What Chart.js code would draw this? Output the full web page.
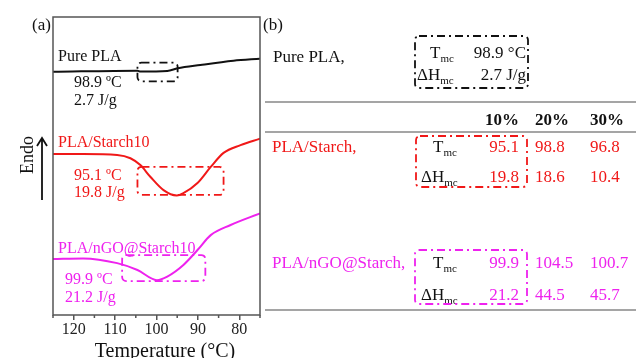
<!DOCTYPE html>
<html lang="en">
<head>
<meta charset="UTF-8">
<title>DSC cooling curves</title>
<script src="https://cdn.jsdelivr.net/npm/chart.js@4.4.4/dist/chart.umd.js"></script>
<style>
  body { margin: 0; background: #fff; }
</style>
</head>
<body>
<canvas id="dsc" width="636" height="358"></canvas>
<script>
// heat flow (arbitrary units, curves shifted vertically)
const tempPure = [125, 104.6, 103.9, 97.4, 94.9, 89.4, 81.4, 75];
const flowPure = [81.6, 82.0, 81.7, 81.9, 82.8, 83.9, 85.3, 86.0];

const tempStarch = [125, 117.7, 109.5, 106.3, 103.9, 101.5, 98.3, 95.1, 93.5, 90.1, 86.9, 83.8, 79.7, 75];
const flowStarch = [54.0, 54.0, 53.7, 52.6, 50.3, 46.4, 41.9, 40.1, 40.9, 44.3, 49.7, 54.4, 57.0, 59.2];

const tempNgo = [125, 117.7, 109.5, 104.6, 99.9, 97.4, 93.5, 90.1, 86.9, 82.1, 75];
const flowNgo = [18.8, 19.0, 17.4, 15.1, 11.7, 12.9, 16.8, 21.8, 26.8, 30.2, 34.1];

const tickTemps = [80, 90, 100, 110, 120];

// table (b)
const fillers = ['10%', '20%', '30%'];
const pureTmc = 98.9, pureDH = 2.7;
const starchTmc = [95.1, 98.8, 96.8];
const starchDH = [19.8, 18.6, 10.4];
const ngoTmc = [99.9, 104.5, 100.7];
const ngoDH = [21.2, 44.5, 45.7];

const BLACK = '#111';
const RED = '#f01818';
const MAG = '#ee22ee';
const SERIF = "'Liberation Serif', 'Times New Roman', serif";

function pts(xs, ys) { return xs.map((x, i) => ({ x: x, y: ys[i] })); }

// dash-dot boxes around the crystallisation peaks: [T1, T2, y1, y2]
const boxes = [
  { c: BLACK, r: [104.6, 94.9, 84.7, 78.4] },
  { c: RED, r: [104.6, 83.8, 49.7, 40.3] },
  { c: MAG, r: [108.3, 88.2, 20.1, 11.4] }
];

function sub(ctx, main, s, x, y, size) {
  ctx.font = size + 'px ' + SERIF;
  ctx.fillText(main, x, y);
  const w = ctx.measureText(main).width;
  ctx.font = Math.round(size * 0.65) + 'px ' + SERIF;
  ctx.fillText(s, x + w, y + 4);
}

function dashRect(ctx, x1, y1, x2, y2, color) {
  ctx.save();
  ctx.strokeStyle = color;
  ctx.lineWidth = 1.8;
  ctx.setLineDash([8, 4, 2, 4]);
  ctx.beginPath();
  ctx.roundRect(Math.min(x1, x2), Math.min(y1, y2), Math.abs(x2 - x1), Math.abs(y2 - y1), 4);
  ctx.stroke();
  ctx.restore();
}

const extras = {
  id: 'extras',
  afterDraw(chart) {
    const ctx = chart.ctx, xs = chart.scales.x, ys = chart.scales.y, a = chart.chartArea;
    ctx.save();
    // frame
    ctx.strokeStyle = '#555';
    ctx.lineWidth = 1.5;
    ctx.strokeRect(a.left, a.top, a.right - a.left, a.bottom - a.top);
    // minor ticks
    ctx.beginPath();
    for (let t = 75; t <= 125; t += 10) {
      const px = xs.getPixelForValue(t);
      ctx.moveTo(px, a.bottom); ctx.lineTo(px, a.bottom + 3);
    }
    ctx.stroke();

    boxes.forEach(b => dashRect(ctx, xs.getPixelForValue(b.r[0]), ys.getPixelForValue(b.r[2]),
      xs.getPixelForValue(b.r[1]), ys.getPixelForValue(b.r[3]), b.c));

    ctx.textBaseline = 'alphabetic';
    ctx.textAlign = 'left';
    ctx.font = '16px ' + SERIF;
    ctx.fillStyle = BLACK;
    ctx.fillText('Pure PLA', 58, 61);
    ctx.fillText('98.9 ºC', 74, 87);
    ctx.fillText('2.7 J/g', 74, 105);
    ctx.fillStyle = RED;
    ctx.fillText('PLA/Starch10', 58, 147);
    ctx.fillText('95.1 ºC', 74, 180);
    ctx.fillText('19.8 J/g', 74, 197);
    ctx.fillStyle = MAG;
    ctx.fillText('PLA/nGO@Starch10', 58, 253);
    ctx.fillText('99.9 ºC', 65, 284);
    ctx.fillText('21.2 J/g', 65, 302);

    // panel letters, axis title, Endo arrow
    ctx.fillStyle = BLACK;
    ctx.font = '17px ' + SERIF;
    ctx.fillText('(a)', 32, 30);
    ctx.fillText('(b)', 263, 30);
    ctx.font = '20px ' + SERIF;
    ctx.textAlign = 'center';
    ctx.fillText('Temperature (°C)', 165, 357);
    ctx.save();
    ctx.translate(33, 155);
    ctx.rotate(-Math.PI / 2);
    ctx.font = '18px ' + SERIF;
    ctx.fillText('Endo', 0, 0);
    ctx.restore();
    ctx.strokeStyle = BLACK;
    ctx.lineWidth = 1.8;
    ctx.beginPath();
    ctx.moveTo(42, 200); ctx.lineTo(42, 138);
    ctx.moveTo(37, 146); ctx.lineTo(42, 138); ctx.lineTo(47, 146);
    ctx.stroke();

    // table (b)
    ctx.strokeStyle = '#888';
    ctx.lineWidth = 1.5;
    ctx.beginPath();
    [102, 132, 310].forEach(y => { ctx.moveTo(265, y); ctx.lineTo(636, y); });
    ctx.stroke();

    ctx.textAlign = 'left';
    ctx.fillStyle = BLACK;
    ctx.font = '17px ' + SERIF;
    ctx.fillText('Pure PLA,', 273, 62);
    sub(ctx, 'T', 'mc', 430, 58, 17);
    sub(ctx, 'ΔH', 'mc', 417, 80, 17);
    ctx.textAlign = 'right';
    ctx.font = '17px ' + SERIF;
    ctx.fillText(pureTmc.toFixed(1) + ' °C', 526, 58);
    ctx.fillText(pureDH.toFixed(1) + ' J/g', 526, 80);
    dashRect(ctx, 415, 36, 528, 88, BLACK);

    ctx.font = 'bold 17px ' + SERIF;
    const colX = [519, 535, 590];
    fillers.forEach((f, i) => {
      ctx.textAlign = i === 0 ? 'right' : 'left';
      ctx.fillText(f, colX[i], 125);
    });

    const rows = [
      { name: 'PLA/Starch,', c: RED, tmc: starchTmc, dh: starchDH, y1: 152, y2: 182, box: [416, 136, 527, 187] },
      { name: 'PLA/nGO@Starch,', c: MAG, tmc: ngoTmc, dh: ngoDH, y1: 268, y2: 300, box: [415, 250, 527, 304] }
    ];
    rows.forEach(r => {
      ctx.fillStyle = r.c;
      ctx.textAlign = 'left';
      ctx.font = '17px ' + SERIF;
      ctx.fillText(r.name, 272, r.y1);
      ctx.fillStyle = BLACK;
      sub(ctx, 'T', 'mc', 433, r.y1, 17);
      sub(ctx, 'ΔH', 'mc', 421, r.y2, 17);
      ctx.fillStyle = r.c;
      ctx.font = '17px ' + SERIF;
      r.tmc.forEach((v, i) => {
        ctx.textAlign = i === 0 ? 'right' : 'left';
        ctx.fillText(v.toFixed(1), colX[i], r.y1);
      });
      r.dh.forEach((v, i) => {
        ctx.textAlign = i === 0 ? 'right' : 'left';
        ctx.fillText(v.toFixed(1), colX[i], r.y2);
      });
      dashRect(ctx, r.box[0], r.box[1], r.box[2], r.box[3], r.c);
    });
    ctx.restore();
  }
};

const line = (data, color) => ({
  data: data, borderColor: color, borderWidth: 2, pointRadius: 0,
  fill: false, cubicInterpolationMode: 'monotone'
});

new Chart(document.getElementById('dsc'), {
  type: 'line',
  data: {
    datasets: [
      line(pts(tempPure, flowPure), BLACK),
      line(pts(tempStarch, flowStarch), RED),
      line(pts(tempNgo, flowNgo), MAG)
    ]
  },
  options: {
    responsive: false,
    animation: false,
    devicePixelRatio: 1,
    layout: { padding: { left: 53, top: 17, right: 376, bottom: 0 } },
    plugins: { legend: { display: false }, tooltip: { enabled: false } },
    scales: {
      x: {
        type: 'linear', reverse: true, min: 75, max: 125,
        afterBuildTicks: s => { s.ticks = tickTemps.map(v => ({ value: v })); },
        afterFit: s => { s.height = 43; },
        border: { display: false },
        grid: { drawOnChartArea: false, tickLength: 5, color: '#555', lineWidth: 1.5 },
        ticks: { padding: 0, color: '#222', font: { family: SERIF, size: 16 } }
      },
      y: { type: 'linear', min: 0, max: 100, display: false }
    }
  },
  plugins: [extras]
});
</script>
</body>
</html>
